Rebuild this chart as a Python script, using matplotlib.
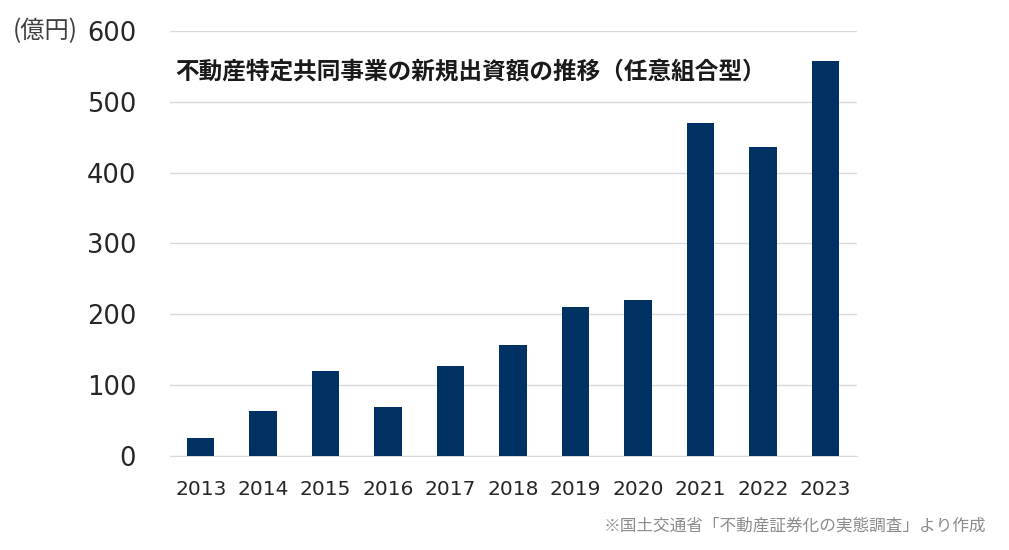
import matplotlib
matplotlib.use("Agg")
import matplotlib.pyplot as plt

plt.rcParams['font.family'] = ['Noto Sans CJK JP', 'DejaVu Sans']

years = ['2013', '2014', '2015', '2016', '2017', '2018', '2019', '2020', '2021', '2022', '2023']
values = [25, 64, 120, 69, 127, 157, 210, 220, 470, 436, 557]
yticks = [0, 100, 200, 300, 400, 500, 600]

title = '不動産特定共同事業の新規出資額の推移（任意組合型）'
unit = '(億円)'
source = '※国土交通省「不動産証券化の実態調査」より作成'

bar_color = '#003163'
grid_color = '#d9d9d9'
text_color = '#262626'


def main():
    fig = plt.figure(figsize=(10.09, 5.5), dpi=100)
    ax = fig.add_axes([0.168, 0.171, 0.681, 0.773])

    x = range(len(years))
    ax.bar(x, values, width=0.44, color=bar_color, zorder=3)

    ax.set_xlim(-0.5, len(years) - 0.5)
    ax.set_ylim(0, 600)
    ax.set_yticks(yticks)
    ax.set_yticklabels([str(v) for v in yticks], fontsize=18.5, color=text_color,
                       family='DejaVu Sans')
    ax.set_xticks(list(x))
    ax.set_xticklabels(years, fontsize=14.5, color=text_color, family='DejaVu Sans')
    ax.tick_params(axis='both', length=0)
    ax.tick_params(axis='y', pad=24)
    ax.tick_params(axis='x', pad=17)

    ax.grid(axis='y', color=grid_color, linewidth=1, zorder=0)
    for s in ['top', 'right', 'left']:
        ax.spines[s].set_visible(False)
    ax.spines['bottom'].set_color(grid_color)

    ax.text(0.008, 0.905, title, transform=ax.transAxes, fontsize=17,
            color='#1a1a1a', fontweight='bold', va='center', ha='left')

    fig.text(0.013, 0.943, unit, fontsize=17.5, color='#404040', va='center', ha='left')
    fig.text(0.977, 0.043, source, fontsize=12, color='#8c8c8c', va='center', ha='right')

    fig.savefig('out.png', dpi=100)


if __name__ == '__main__':
    main()
